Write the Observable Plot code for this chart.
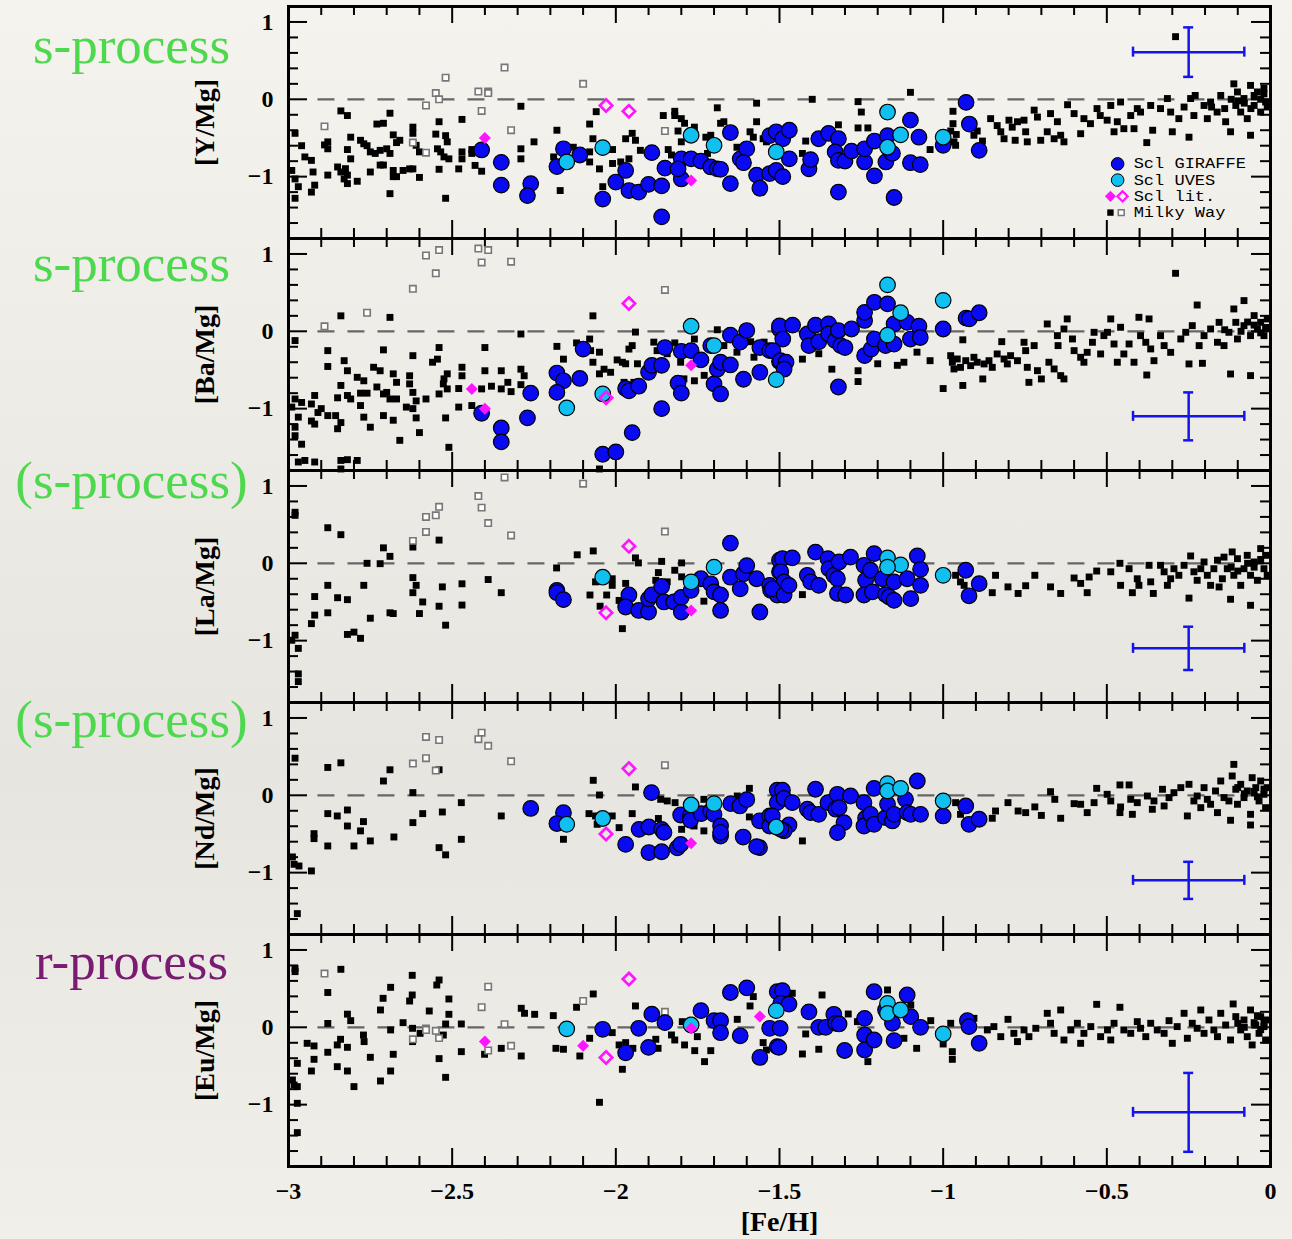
<!DOCTYPE html>
<html><head><meta charset="utf-8">
<script src="https://cdn.jsdelivr.net/npm/d3@7"></script>
<script src="https://cdn.jsdelivr.net/npm/@observablehq/plot@0.6"></script>
<style>
html,body{margin:0;padding:0;}
body{width:1292px;height:1239px;overflow:hidden;background:linear-gradient(180deg,#f5f3ee 0%,#eceae5 40%,#e7e5e0 62%,#f1efea 100%);}
#chart svg{display:block;}
</style></head><body><div id="chart"></div>
<script>
// ---------- panels & labels ----------
const panels = ["[Y/Mg]","[Ba/Mg]","[La/Mg]","[Nd/Mg]","[Eu/Mg]"];
const processLabels = ["s-process","s-process","(s-process)","(s-process)","r-process"];
const processY = [0.47, 0.65, 0.85, 0.75, 0.63];
const xTickValues = [-3,-2.5,-2,-1.5,-1,-0.5,0];
const yTickValues = [-1,0,1];
// error bars (typical uncertainties)
const errX = -0.25, errXHalf = 0.17;
const errY = [0.61,-1.10,-1.10,-1.10,-1.10];
const errYHalf = [0.32,0.31,0.28,0.24,0.51];
// legend
const legendLabels = ["Scl GIRAFFE","Scl UVES","Scl lit.","Milky Way"];
const legendY = [-0.835,-1.045,-1.255,-1.465];

// ---------- [Y/Mg] ----------
const Y_MW = [[-2.84,-0.15],[-2.82,-0.21],[-2.69,-0.18],[-2.73,-0.32],[-2.71,-0.31],[-2.98,-0.44],[-2.96,-0.60],[-2.95,-0.745],[-2.93,-0.79],[-2.98,-1.03],[-2.97,-1.13],[-2.98,-1.28],[-2.925,-0.94],[-2.92,-1.11],[-2.93,-1.20],[-2.99,-0.92],[-2.88,-0.55],[-2.89,-0.59],[-2.88,-0.64],[-2.82,-0.65],[-2.81,-0.49],[-2.81,-0.77],[-2.78,-0.53],[-2.77,-0.575],[-2.76,-0.60],[-2.75,-0.68],[-2.735,-0.70],[-2.72,-0.66],[-2.70,-0.64],[-2.69,-0.70],[-2.68,-0.46],[-2.67,-0.56],[-2.66,-0.53],[-2.85,-0.875],[-2.84,-0.94],[-2.826,-0.897],[-2.82,-0.98],[-2.82,-1.09],[-2.83,-1.03],[-2.88,-0.98],[-2.79,-1.06],[-2.75,-0.94],[-2.72,-0.85],[-2.71,-0.85],[-2.68,-0.92],[-2.68,-1.00],[-2.67,-1.00],[-2.69,-1.22],[-2.65,-0.92],[-2.63,-0.90],[-2.62,-0.90],[-2.62,-0.36],[-2.62,-0.44],[-2.60,-1.01],[-2.61,-0.595],[-2.60,-0.68],[-2.54,-0.29],[-2.55,-0.45],[-2.52,-0.47],[-2.515,-0.55],[-2.545,-0.64],[-2.535,-0.68],[-2.525,-0.745],[-2.51,-0.77],[-2.54,-0.905],[-2.52,-1.28],[-2.47,-0.26],[-2.47,-0.68],[-2.47,-0.77],[-2.48,-0.90],[-2.44,-0.65],[-2.44,-0.70],[-2.43,-0.855],[-2.41,-0.93],[-2.29,-0.09],[-2.29,-0.64],[-2.29,-0.77],[-2.25,-0.55],[-2.18,-0.40],[-2.19,-0.745],[-2.17,-1.18],[-2.13,-0.62],[-2.08,-0.32],[-2.06,-0.16],[-2.07,-0.51],[-2.08,-0.68],[-2.08,-0.81],[-2.05,-0.90],[-2.04,-1.13],[-2.01,-0.65],[-2.01,-0.83],[-1.97,-0.51],[-1.95,-0.44],[-1.94,-0.53],[-1.96,-0.77],[-1.925,-0.66],[-1.985,-0.81],[-1.82,-0.155],[-1.82,-0.21],[-1.855,-0.21],[-1.81,-0.41],[-1.80,-0.25],[-1.79,-0.31],[-1.76,-0.36],[-1.84,-0.65],[-1.83,-0.72],[-1.80,-0.55],[-1.69,-0.11],[-1.68,-0.31],[-1.67,-0.29],[-1.725,-0.49],[-1.71,-0.465],[-1.72,-0.70],[-1.57,-0.05],[-1.57,-0.29],[-1.59,-0.42],[-1.58,-0.49],[-1.63,-0.62],[-1.55,-0.51],[-1.54,-0.55],
[-1.40,0.0],[-1.10,0.09],[-1.26,-0.03],[-1.25,-0.165],[-1.32,-0.33],[-1.26,-0.37],[-1.23,-0.37],[-1.42,-0.54],[-1.43,-0.70],[-1.04,-0.65],[-0.97,-0.155],[-0.97,-0.315],[-0.977,-0.41],[-0.96,-0.455],[-0.967,-0.55],[-0.987,-0.51],[-0.962,-0.595],[-0.896,-0.41],[-0.88,-0.54],[-0.906,-0.465],[-0.855,-0.25],[-0.835,-0.34],[-0.824,-0.42],[-0.814,-0.51],[-0.799,-0.27],[-0.789,-0.36],[-0.773,-0.29],[-0.78,-0.53],[-0.753,-0.27],[-0.748,-0.42],[-0.743,-0.55],[-0.722,-0.14],[-0.712,-0.23],[-0.702,-0.53],[-0.682,-0.42],[-0.672,-0.185],[-0.661,-0.51],[-0.651,-0.29],[-0.641,-0.465],[-0.631,-0.55],[-0.62,-0.07],[-0.60,-0.185],[-0.58,-0.445],[-0.57,-0.25],[-0.55,-0.315],[-0.53,-0.12],[-0.52,-0.21],[-0.499,-0.27],[-0.488,-0.08],[-0.478,-0.42],[-0.468,-0.29],[-0.458,-0.035],[-0.448,-0.38],[-0.427,-0.21],[-0.417,-0.38],[-0.407,-0.12],[-0.397,-0.165],[-0.378,-0.56],[-0.366,-0.08],[-0.36,-0.40],[-0.336,-0.12],[-0.315,0.01],[-0.305,-0.165],[-0.30,-0.42],[-0.28,-0.25],[-0.264,-0.10],[-0.249,-0.49],[-0.244,0.01],[-0.234,-0.21],[-0.29,0.81],[-0.23,0.05],[-0.203,-0.08],[-0.193,-0.25],[-0.183,-0.035],[-0.163,-0.165],[-0.152,0.05],[-0.137,-0.29],[-0.122,-0.42],[-0.112,0.20],[-0.106,-0.08],[-0.101,0.095],[-0.091,-0.165],[-0.081,0.01],[-0.071,-0.25],[-0.061,0.18],[-0.061,-0.465],[-0.05,-0.08],[-0.04,0.095],[-0.03,-0.165],[-0.02,0.14],[-0.015,-0.035],[-0.05,0.05],[-0.03,0.0],[-0.01,-0.1],[-0.08,-0.05],[-0.12,0.0],[-0.18,-0.10],[-0.14,-0.12],[-0.1,-0.02],[-0.02,0.07],[-0.06,-0.12]];
const Y_MW_OPEN = [[-2.89,-0.35],[-2.58,-0.08],[-2.55,0.08],[-2.54,0.0],[-2.52,0.28],[-2.42,0.10],[-2.39,0.10],[-2.39,0.08],[-2.41,-0.15],[-2.34,0.41],[-2.32,-0.40],[-2.62,-0.56],[-2.58,-0.69],[-2.10,0.20],[-1.85,-0.41]];
const Y_GIRAFFE = [[-2.41,-0.655],[-2.35,-0.815],[-2.35,-1.11],[-2.26,-1.09],[-2.27,-1.245],[-2.16,-0.64],[-2.18,-0.87],[-2.11,-0.72],[-2.04,-1.29],[-2.00,-1.07],[-1.97,-0.92],[-1.96,-1.18],[-1.93,-1.20],[-1.90,-1.10],[-1.89,-0.69],[-1.86,-1.12],[-1.85,-0.89],[-1.86,-1.52],[-1.80,-0.77],[-1.80,-1.03],[-1.81,-0.90],[-1.77,-0.77],[-1.74,-0.80],[-1.71,-0.875],[-1.69,-0.90],[-1.68,-0.905],[-1.65,-0.43],[-1.65,-1.09],[-1.62,-0.77],[-1.60,-0.64],[-1.61,-0.82],[-1.57,-0.98],[-1.56,-1.15],[-1.53,-0.47],[-1.53,-0.96],[-1.51,-0.42],[-1.51,-0.92],[-1.49,-0.51],[-1.49,-1.00],[-1.47,-0.40],[-1.47,-0.77],[-1.41,-0.90],[-1.405,-0.78],[-1.38,-0.51],[-1.35,-0.44],[-1.32,-0.51],[-1.33,-0.68],[-1.32,-0.79],[-1.30,-0.80],[-1.28,-0.67],[-1.32,-1.20],[-1.24,-0.81],[-1.24,-0.64],[-1.21,-0.99],[-1.21,-0.54],[-1.175,-0.81],[-1.17,-0.47],[-1.155,-0.70],[-1.15,-1.27],[-1.10,-0.27],[-1.10,-0.82],[-1.074,-0.49],[-1.07,-0.845],[-1.00,-0.595],[-0.93,-0.04],[-0.92,-0.32],[-0.89,-0.66]];
const Y_UVES = [[-2.04,-0.625],[-2.15,-0.81],[-1.77,-0.465],[-1.70,-0.595],[-1.51,-0.68],[-1.17,-0.165],[-1.13,-0.46],[-1.17,-0.62],[-1.00,-0.49]];
const Y_LIT = [[-2.40,-0.50],[-1.77,-1.05]];
const Y_LIT_OPEN = [[-2.03,-0.08],[-1.96,-0.155]];

// ---------- [Ba/Mg] ----------
const BA_MW = [[-2.84,0.20],[-2.69,0.18],[-2.98,-0.12],[-2.88,-0.25],[-2.88,-0.455],[-2.83,-0.38],[-2.82,-0.51],[-2.84,-0.70],[-2.85,-0.86],[-2.92,-0.83],[-2.93,-0.94],[-2.96,-0.92],[-2.98,-0.875],[-2.99,-0.98],[-2.97,-1.11],[-2.98,-1.24],[-2.98,-1.35],[-2.96,-1.46],[-2.97,-1.69],[-2.95,-1.67],[-2.92,-1.69],[-2.91,-1.05],[-2.93,-1.16],[-2.92,-1.20],[-2.90,-1.00],[-2.88,-1.09],[-2.856,-1.09],[-2.85,-1.26],[-2.84,-1.18],[-2.84,-1.67],[-2.82,-1.66],[-2.79,-1.67],[-2.84,-1.78],[-2.82,-0.83],[-2.81,-0.875],[-2.79,-0.595],[-2.77,-0.64],[-2.78,-0.80],[-2.76,-0.80],[-2.78,-0.96],[-2.77,-1.11],[-2.75,-1.24],[-2.73,-0.72],[-2.72,-0.51],[-2.71,-0.81],[-2.70,-0.79],[-2.71,-1.09],[-2.69,-0.875],[-2.68,-0.55],[-2.67,-0.66],[-2.67,-0.875],[-2.68,-1.15],[-2.66,-1.41],[-2.71,-0.24],[-2.74,-0.465],[-2.62,-0.315],[-2.63,-0.575],[-2.63,-0.68],[-2.62,-0.79],[-2.61,-0.90],[-2.64,-0.98],[-2.62,-1.00],[-2.61,-1.12],[-2.60,-1.31],[-2.58,-0.875],[-2.56,-0.40],[-2.545,-0.36],[-2.54,-0.21],[-2.525,-0.615],[-2.515,-0.745],[-2.515,-0.55],[-2.52,-1.12],[-2.51,-1.50],[-2.54,-0.81],[-2.527,-0.68],[-2.48,-0.98],[-2.48,-0.74],[-2.47,-0.575],[-2.47,-0.465],[-2.44,-0.96],[-2.41,-0.745],[-2.40,-0.51],[-2.40,-0.21],[-2.38,-0.71],[-2.35,-0.51],[-2.35,-0.745],[-2.33,-0.66],[-2.32,-0.78],[-2.29,-0.035],[-2.29,-0.49],[-2.28,-0.575],[-2.29,-0.69],[-2.18,-0.195],[-2.16,-0.36],[-2.12,-0.15],[-2.08,-0.10],[-2.077,-0.25],[-2.07,-0.40],[-2.07,0.20],[-2.05,-0.27],[-2.05,-0.55],[-2.05,-1.78],[-2.036,-0.49],[-2.016,-0.53],[-1.996,-0.37],[-1.98,-0.40],[-1.97,-0.42],[-1.96,-0.23],[-1.95,-0.185],[-1.94,-0.01],[-1.934,-0.42],[-1.975,-0.66],[-1.945,-0.66],[-1.884,-0.14],[-1.874,-0.25],[-1.843,-0.29],[-1.82,-0.15],[-1.802,-0.40],[-1.792,-0.615],[-1.76,-0.64],[-1.76,-0.10],[-1.73,-0.57],[-1.69,0.02],[-1.67,-0.185],[-1.63,-0.27],[-1.578,-0.335],[-1.588,-0.135],[-1.547,-0.14],
[-1.43,-0.36],[-1.38,-0.29],[-1.34,-0.49],[-1.26,-0.51],[-1.26,-0.65],[-1.20,-0.42],[-1.14,-0.44],[-1.12,-0.40],[-1.08,-0.27],[-1.04,-0.38],[-1.00,-0.74],[-0.94,-0.11],[-0.94,-0.70],[-0.977,-0.315],[-0.972,-0.40],[-0.967,-0.487],[-0.957,-0.358],[-0.947,-0.466],[-0.931,-0.38],[-0.916,-0.444],[-0.906,-0.336],[-0.896,-0.40],[-0.875,-0.422],[-0.879,-0.616],[-0.86,-0.38],[-0.85,-0.466],[-0.835,-0.293],[-0.821,-0.134],[-0.814,-0.358],[-0.804,-0.422],[-0.794,-0.315],[-0.773,-0.38],[-0.753,-0.142],[-0.748,-0.25],[-0.743,-0.466],[-0.738,-0.66],[-0.722,-0.185],[-0.712,-0.509],[-0.70,-0.616],[-0.682,0.095],[-0.677,-0.40],[-0.661,-0.487],[-0.651,-0.056],[-0.649,-0.185],[-0.641,-0.573],[-0.631,0.03],[-0.631,-0.616],[-0.621,0.16],[-0.605,-0.099],[-0.60,-0.25],[-0.58,-0.336],[-0.57,-0.40],[-0.56,-0.272],[-0.544,-0.142],[-0.539,-0.013],[-0.519,-0.293],[-0.509,-0.056],[-0.498,-0.013],[-0.488,0.16],[-0.478,-0.164],[-0.468,-0.40],[-0.458,0.052],[-0.448,-0.293],[-0.432,-0.164],[-0.417,-0.40],[-0.402,0.181],[-0.397,-0.056],[-0.381,-0.142],[-0.378,-0.565],[-0.371,0.16],[-0.366,-0.228],[-0.356,-0.38],[-0.336,-0.056],[-0.325,-0.185],[-0.305,-0.272],[-0.29,0.75],[-0.274,-0.099],[-0.259,-0.013],[-0.249,-0.422],[-0.239,0.073],[-0.224,0.34],[-0.218,-0.185],[-0.208,-0.414],[-0.203,-0.056],[-0.183,0.03],[-0.162,-0.142],[-0.157,0.116],[-0.142,-0.185],[-0.127,-0.013],[-0.122,-0.552],[-0.112,0.289],[-0.106,0.116],[-0.101,-0.099],[-0.081,0.397],[-0.081,0.073],[-0.061,-0.056],[-0.061,-0.573],[-0.05,0.203],[-0.04,0.03],[-0.03,0.116],[-0.02,-0.056],[-0.01,0.16],[-0.05,0.08],[-0.03,-0.02],[-0.015,0.05],[-0.09,0.0],[-0.14,0.02],[-0.07,0.12]];
const BA_MW_OPEN = [[-2.89,0.065],[-2.76,0.24],[-2.62,0.55],[-2.58,0.98],[-2.55,0.75],[-2.54,1.05],[-2.42,1.07],[-2.39,1.05],[-2.41,0.89],[-2.32,0.90],[-1.85,0.535]];
const BA_GIRAFFE = [[-2.41,-1.06],[-2.35,-1.25],[-2.35,-1.43],[-2.26,-0.80],[-2.27,-1.12],[-2.18,-0.54],[-2.16,-0.64],[-2.18,-0.79],[-2.11,-0.61],[-2.10,-0.23],[-2.04,-1.59],[-2.00,-1.56],[-1.97,-0.74],[-1.96,-0.77],[-1.95,-1.31],[-1.93,-0.71],[-1.90,-0.53],[-1.89,-0.44],[-1.86,-0.44],[-1.86,-1.00],[-1.85,-0.21],[-1.81,-0.67],[-1.80,-0.80],[-1.80,-0.26],[-1.77,-0.25],[-1.74,-0.37],[-1.71,-0.185],[-1.70,-0.68],[-1.68,-0.81],[-1.69,-0.49],[-1.68,-0.40],[-1.65,-0.435],[-1.65,-0.05],[-1.62,-0.14],[-1.60,0.01],[-1.61,-0.62],[-1.56,-0.21],[-1.56,-0.53],[-1.53,-0.25],[-1.50,0.03],[-1.50,-0.39],
[-1.50,0.07],[-1.46,0.08],[-1.49,-0.10],[-1.52,-0.25],[-1.497,-0.38],[-1.48,-0.40],[-1.486,-0.49],[-1.415,-0.035],[-1.41,-0.185],[-1.39,0.08],[-1.38,-0.135],[-1.35,0.095],[-1.35,-0.035],[-1.33,-0.12],[-1.32,0.01],[-1.313,-0.185],[-1.30,-0.21],[-1.28,0.03],[-1.32,-0.72],[-1.24,0.14],[-1.24,0.245],[-1.24,-0.315],[-1.22,-0.23],[-1.21,0.375],[-1.21,-0.10],[-1.17,0.355],[-1.176,-0.185],[-1.15,-0.165],[-1.15,0.095],[-1.11,0.115],[-1.10,-0.10],[-1.074,0.065],[-1.07,-0.08],[-1.00,0.03],[-0.93,0.17],[-0.92,0.16],[-0.89,0.24]];
const BA_UVES = [[-2.04,-0.81],[-2.15,-0.99],[-1.77,0.065],[-1.70,-0.185],[-1.51,-0.625],[-1.17,0.60],[-1.13,0.24],[-1.17,-0.05],[-1.00,0.40]];
const BA_LIT = [[-2.44,-0.745],[-2.40,-1.00],[-1.77,-0.44]];
const BA_LIT_OPEN = [[-1.96,0.36],[-2.03,-0.86]];

// ---------- [La/Mg] ----------
const LA_MW = [[-2.98,0.66],[-2.98,0.62],[-2.88,0.46],[-2.84,0.37],[-2.71,0.20],[-2.69,0.09],[-2.76,0.0],[-2.72,-0.005],[-2.88,-0.285],[-2.92,-0.43],[-2.85,-0.445],[-2.82,-0.47],[-2.77,-0.285],[-2.88,-0.64],[-2.92,-0.67],[-2.93,-0.78],[-2.98,-0.93],[-2.99,-0.995],[-2.97,-1.10],[-2.97,-1.43],[-2.97,-1.53],[-2.82,-0.92],[-2.80,-0.89],[-2.78,-0.97],[-2.75,-0.71],[-2.69,-0.64],[-2.68,-0.65],[-2.62,0.21],[-2.62,-0.185],[-2.61,-0.285],[-2.62,-0.38],[-2.59,-0.50],[-2.60,-0.65],[-2.54,0.30],[-2.53,-0.305],[-2.54,-0.555],[-2.52,-0.80],[-2.47,-0.265],[-2.47,-0.54],[-2.39,-0.21],[-2.35,-0.38],[-2.181,-0.06],[-2.118,0.11],[-2.069,0.16],[-2.062,-0.24],[-2.079,-0.41],[-2.028,-0.41],[-2.048,-0.555],[-2.011,-0.20],[-2.011,-0.285],[-1.98,-0.845],[-1.99,-0.48],[-1.97,-0.26],[-1.94,0.07],[-1.931,0.005],[-1.86,0.025],[-1.87,-0.12],[-1.878,-0.22],[-1.843,-0.24],[-1.82,-0.09],[-1.799,0.005],[-1.799,-0.175],[-1.731,-0.49],[-1.746,-0.20],
[-1.43,-0.405],[-0.962,-0.155],[-0.947,-0.24],[-0.936,-0.285],[-0.85,-0.38],[-0.84,-0.155],[-0.802,-0.305],[-0.771,-0.39],[-0.748,-0.29],[-0.72,-0.155],[-0.672,-0.305],[-0.641,-0.39],[-0.60,-0.19],[-0.58,-0.26],[-0.56,-0.38],[-0.554,-0.177],[-0.531,-0.10],[-0.488,-0.11],[-0.46,0.0],[-0.458,-0.285],[-0.432,-0.07],[-0.422,-0.38],[-0.407,-0.20],[-0.402,-0.285],[-0.371,-0.026],[-0.366,-0.24],[-0.358,-0.39],[-0.336,-0.026],[-0.325,-0.11],[-0.315,-0.285],[-0.305,-0.20],[-0.295,-0.07],[-0.28,-0.155],[-0.264,-0.026],[-0.249,-0.45],[-0.244,0.095],[-0.234,-0.11],[-0.224,-0.22],[-0.213,-0.07],[-0.203,0.017],[-0.193,-0.155],[-0.183,-0.285],[-0.173,-0.07],[-0.162,0.04],[-0.157,-0.306],[-0.147,-0.20],[-0.142,0.08],[-0.132,-0.07],[-0.122,-0.465],[-0.117,0.147],[-0.112,-0.155],[-0.101,0.06],[-0.091,-0.285],[-0.081,-0.07],[-0.071,0.103],[-0.061,-0.543],[-0.061,-0.155],[-0.05,0.017],[-0.04,-0.22],[-0.03,0.19],[-0.02,-0.07],[-0.015,0.103],[-0.01,-0.155],[-0.05,-0.05],[-0.03,0.05],[-0.1,-0.1],[-0.07,0.0],[-0.12,-0.05]];
const LA_MW_OPEN = [[-2.34,1.11],[-2.10,1.03],[-2.42,0.87],[-2.41,0.72],[-2.54,0.73],[-2.55,0.62],[-2.58,0.60],[-2.58,0.405],[-2.62,0.29],[-2.39,0.52],[-2.32,0.36],[-1.85,0.41]];
const LA_GIRAFFE = [[-2.18,-0.35],[-2.18,-0.38],[-2.16,-0.47],[-1.96,-0.41],[-1.97,-0.565],[-1.93,-0.61],[-1.90,-0.63],[-1.90,-0.46],[-1.89,-0.41],[-1.86,-0.30],[-1.853,-0.50],[-1.823,-0.50],[-1.80,-0.63],[-1.80,-0.44],[-1.77,-0.35],[-1.74,-0.20],[-1.71,-0.265],[-1.70,-0.37],[-1.68,-0.41],[-1.68,-0.61],[-1.65,-0.18],[-1.62,-0.33],[-1.61,-0.135],[-1.60,-0.03],[-1.56,-0.63],[-1.57,-0.20],[-1.53,-0.285],[-1.527,-0.35],[-1.50,0.04],[-1.50,-0.11],[-1.507,-0.41],[-1.65,0.26],
[-1.491,0.06],[-1.461,0.07],[-1.496,-0.11],[-1.486,-0.24],[-1.522,-0.33],[-1.486,-0.41],[-1.471,-0.285],[-1.415,-0.155],[-1.405,-0.24],[-1.39,0.145],[-1.38,-0.285],[-1.352,0.06],[-1.349,-0.07],[-1.334,-0.155],[-1.323,-0.20],[-1.318,0.017],[-1.323,-0.39],[-1.298,-0.41],[-1.283,0.08],[-1.242,-0.026],[-1.237,-0.22],[-1.222,-0.09],[-1.211,0.125],[-1.242,-0.41],[-1.216,-0.37],[-1.186,-0.20],[-1.176,-0.405],[-1.165,-0.435],[-1.15,-0.48],[-1.15,-0.24],[-1.11,-0.20],[-1.099,-0.457],[-1.079,0.095],[-1.069,-0.078],[-1.069,-0.285],[-0.931,-0.09],[-0.921,-0.42],[-0.89,-0.263]];
const LA_UVES = [[-2.04,-0.18],[-1.77,-0.24],[-1.70,-0.05],[-1.17,0.07],[-1.13,-0.02],[-1.17,-0.05],[-1.00,-0.155]];
const LA_LIT = [[-1.77,-0.61]];
const LA_LIT_OPEN = [[-1.96,0.22],[-2.03,-0.64]];

// ---------- [Nd/Mg] ----------
const ND_MW = [[-2.98,0.48],[-2.88,0.36],[-2.84,0.42],[-2.71,0.185],[-2.69,0.33],[-2.62,0.035],[-2.54,0.33],[-2.88,-0.237],[-2.851,-0.267],[-2.82,-0.19],[-2.88,-0.655],[-2.922,-0.496],[-2.922,-0.56],[-2.82,-0.397],[-2.771,-0.34],[-2.78,-0.46],[-2.80,-0.655],[-2.75,-0.59],[-2.678,-0.539],[-2.988,-0.797],[-2.983,-0.892],[-2.968,-0.914],[-2.93,-0.978],[-2.973,-1.53],[-2.62,-0.353],[-2.59,-0.237],[-2.53,-0.216],[-2.54,-0.677],[-2.52,-0.77],[-2.472,-0.095],[-2.472,-0.569],[-2.35,-0.267],[-2.069,0.194],[-2.05,0.004],[-2.082,-0.237],[-2.062,-0.267],[-2.057,-0.375],[-2.011,-0.267],[-1.99,-0.418],[-1.95,-0.237],[-1.94,0.108],[-1.87,-0.30],[-1.863,-0.052],[-1.843,-0.073],[-1.819,-0.095],[-1.799,-0.44],[-1.731,-0.052],[-1.731,-0.46],[-1.761,-0.397],[-1.629,-0.009],[-1.592,0.09],[-1.592,-0.28],[-2.16,-0.569],
[-1.43,-0.59],[-0.962,-0.095],[-0.947,-0.246],[-0.85,-0.297],[-0.84,-0.203],[-0.802,-0.095],[-0.771,-0.203],[-0.748,-0.224],[-0.72,-0.15],[-0.70,-0.26],[-0.672,0.047],[-0.659,-0.052],[-0.641,-0.297],[-0.60,-0.108],[-0.58,-0.116],[-0.56,-0.224],[-0.539,-0.095],[-0.531,0.09],[-0.499,0.013],[-0.488,-0.073],[-0.46,0.134],[-0.458,-0.151],[-0.46,-0.224],[-0.432,0.134],[-0.427,-0.052],[-0.422,-0.246],[-0.407,-0.095],[-0.376,-0.009],[-0.361,-0.181],[-0.356,-0.073],[-0.33,0.078],[-0.325,-0.138],[-0.31,-0.03],[-0.295,0.034],[-0.274,0.099],[-0.254,-0.267],[-0.249,0.142],[-0.234,-0.073],[-0.224,-0.009],[-0.213,-0.16],[-0.203,0.099],[-0.193,-0.052],[-0.183,-0.116],[-0.168,0.056],[-0.162,-0.224],[-0.152,0.185],[-0.142,-0.03],[-0.127,-0.073],[-0.122,-0.323],[-0.112,0.40],[-0.117,0.25],[-0.106,0.078],[-0.101,-0.116],[-0.091,0.142],[-0.081,-0.03],[-0.071,0.056],[-0.061,-0.246],[-0.061,-0.384],[-0.056,0.228],[-0.045,0.099],[-0.035,-0.073],[-0.03,0.185],[-0.02,0.013],[-0.015,-0.16],[-0.01,0.099],[-0.05,0.05],[-0.02,0.08],[-0.08,0.02],[-0.04,-0.02],[-0.1,0.1]];
const ND_MW_OPEN = [[-2.58,0.755],[-2.54,0.715],[-2.41,0.81],[-2.42,0.725],[-2.39,0.64],[-2.62,0.41],[-2.58,0.48],[-2.55,0.32],[-2.32,0.44],[-1.85,0.39]];
const ND_GIRAFFE = [[-2.26,-0.17],[-2.16,-0.225],[-2.18,-0.365],[-1.97,-0.635],[-1.929,-0.44],[-1.899,-0.41],[-1.891,0.035],[-1.86,-0.44],[-1.853,-0.48],[-1.899,-0.74],[-1.86,-0.73],[-1.812,-0.68],[-1.802,-0.635],[-1.802,-0.255],[-1.772,-0.267],[-1.772,-0.323],[-1.739,-0.237],[-1.71,-0.203],[-1.70,-0.246],[-1.68,-0.397],[-1.68,-0.526],[-1.68,-0.48],[-1.649,-0.108],[-1.621,-0.138],[-1.60,-0.056],[-1.611,-0.54],[-1.561,-0.677],[-1.57,-0.664],[-1.561,-0.33],[-1.53,-0.267],[-1.53,-0.397],[-1.507,0.065],[-1.507,-0.095],
[-1.491,0.065],[-1.486,-0.04],[-1.461,-0.095],[-1.522,-0.267],[-1.471,-0.384],[-1.486,-0.46],[-1.496,-0.44],[-1.415,-0.18],[-1.405,-0.224],[-1.39,0.078],[-1.38,-0.246],[-1.352,-0.095],[-1.328,-0.18],[-1.323,0.013],[-1.318,-0.16],[-1.303,-0.353],[-1.283,-0.009],[-1.323,-0.483],[-1.242,-0.095],[-1.237,-0.297],[-1.242,-0.397],[-1.211,0.09],[-1.222,-0.246],[-1.211,-0.375],[-1.176,-0.289],[-1.17,-0.116],[-1.155,-0.332],[-1.15,-0.246],[-1.115,-0.052],[-1.11,-0.224],[-1.099,-0.246],[-1.079,0.185],[-1.069,-0.246],[-1.0,-0.267],[-0.931,-0.138],[-0.921,-0.375],[-0.89,-0.31]];
const ND_UVES = [[-2.15,-0.375],[-2.04,-0.30],[-1.77,-0.125],[-1.70,-0.108],[-1.51,-0.41],[-1.17,0.15],[-1.17,0.056],[-1.13,0.09],[-1.00,-0.073]];
const ND_LIT = [[-1.77,-0.62]];
const ND_LIT_OPEN = [[-1.96,0.345],[-2.03,-0.50]];

// ---------- [Eu/Mg] ----------
const EU_MW = [[-2.98,0.76],[-2.98,0.72],[-2.84,0.75],[-2.88,0.45],[-2.88,0.05],[-2.82,0.17],[-2.81,0.086],[-2.943,-0.207],[-2.922,-0.241],[-2.922,-0.414],[-2.88,-0.323],[-2.851,-0.228],[-2.841,-0.155],[-2.82,-0.259],[-2.851,-0.509],[-2.82,-0.565],[-2.80,-0.767],[-2.93,-0.565],[-2.973,-0.466],[-2.988,-0.681],[-2.973,-0.767],[-2.983,-0.746],[-2.973,-0.983],[-2.973,-1.362],[-2.771,-0.10],[-2.769,-0.185],[-2.75,-0.388],[-2.719,0.224],[-2.711,0.375],[-2.688,0.517],[-2.688,-0.034],[-2.68,-0.349],[-2.719,-0.694],[-2.688,-0.565],[-2.65,0.06],[-2.622,0.672],[-2.622,0.418],[-2.63,0.34],[-2.621,-0.013],[-2.621,-0.185],[-2.598,-0.078],[-2.57,0.211],[-2.547,0.547],[-2.54,0.612],[-2.51,0.366],[-2.51,0.168],[-2.52,0.043],[-2.527,-0.10],[-2.54,-0.405],[-2.52,-0.647],[-2.472,0.043],[-2.472,-0.315],[-2.401,-0.349],[-2.35,-0.272],[-2.289,0.246],[-2.279,0.181],[-2.289,-0.371],[-2.248,0.168],[-2.191,0.151],[-2.183,-0.272],[-2.16,-0.284],[-2.12,0.259],[-2.11,-0.371],[-2.08,-0.142],[-2.069,0.431],[-2.05,-0.97],[-2.011,-0.069],[-1.99,-0.228],[-1.98,-0.543],[-1.97,-0.198],[-1.948,-0.272],[-1.94,0.276],[-1.878,-0.155],[-1.871,-0.272],[-1.83,-0.099],[-1.82,-0.164],[-1.797,0.073],[-1.79,-0.228],[-1.759,-0.302],[-1.751,-0.121],[-1.729,-0.444],[-1.71,-0.302],[-1.629,0.103],[-1.59,0.276],[-1.58,0.397],[-1.55,-0.198],[-1.54,-0.293],
[-1.461,0.44],[-1.37,0.418],[-1.43,-0.345],[-1.42,-0.086],[-1.38,-0.284],[-1.29,0.172],[-1.262,0.073],[-1.23,-0.444],[-1.17,0.483],[-1.12,-0.142],[-1.099,0.289],[-1.081,-0.272],[-1.038,0.086],[-1.0,-0.216],[-0.972,-0.315],[-0.972,-0.414],[-0.977,0.052],[-0.906,0.116],[-0.865,-0.034],[-0.845,0.009],[-0.824,-0.121],[-0.802,0.103],[-0.784,-0.078],[-0.773,-0.185],[-0.753,-0.034],[-0.738,-0.121],[-0.717,-0.013],[-0.682,0.181],[-0.672,0.052],[-0.661,-0.078],[-0.641,0.224],[-0.631,-0.164],[-0.61,-0.034],[-0.59,0.052],[-0.58,-0.207],[-0.57,-0.078],[-0.549,0.009],[-0.531,0.297],[-0.519,-0.121],[-0.498,-0.034],[-0.488,-0.164],[-0.478,0.052],[-0.46,0.259],[-0.448,-0.034],[-0.427,-0.078],[-0.407,0.073],[-0.397,-0.013],[-0.381,-0.121],[-0.366,0.052],[-0.346,-0.034],[-0.325,-0.078],[-0.31,0.086],[-0.30,-0.207],[-0.285,0.009],[-0.264,0.181],[-0.254,-0.142],[-0.239,0.052],[-0.224,-0.013],[-0.213,0.224],[-0.203,-0.078],[-0.188,0.095],[-0.173,-0.034],[-0.162,-0.121],[-0.152,0.181],[-0.137,0.03],[-0.122,-0.164],[-0.114,0.302],[-0.106,0.138],[-0.091,-0.034],[-0.081,0.095],[-0.071,-0.121],[-0.061,0.224],[-0.056,-0.228],[-0.045,0.03],[-0.035,-0.078],[-0.03,0.138],[-0.02,0.009],[-0.015,-0.164],[-0.01,0.095],[-0.05,0.06],[-0.03,-0.03],[-0.08,0.0],[-0.02,0.05],[-0.1,0.05],[-0.04,0.15]];
const EU_MW_OPEN = [[-2.89,0.695],[-2.39,0.525],[-2.41,0.26],[-2.34,0.04],[-2.58,-0.015],[-2.58,-0.035],[-2.55,-0.045],[-2.54,-0.14],[-2.62,-0.155],[-2.39,-0.30],[-2.32,-0.24],[-2.10,0.34],[-1.85,0.20]];
const EU_GIRAFFE = [[-2.04,-0.026],[-1.97,-0.33],[-1.93,-0.013],[-1.90,-0.26],[-1.89,0.17],[-1.85,0.06],[-1.74,0.215],[-1.70,0.086],[-1.68,0.086],[-1.68,-0.07],[-1.65,0.45],[-1.60,0.51],[-1.62,-0.11],[-1.56,-0.39],[-1.53,-0.013],[-1.507,-0.25],[-1.507,0.46],
[-1.491,0.474],[-1.496,0.31],[-1.471,0.30],[-1.498,-0.013],[-1.502,-0.26],[-1.41,0.20],[-1.38,0.0],[-1.359,0.0],[-1.334,0.168],[-1.328,0.052],[-1.318,0.043],[-1.301,-0.30],[-1.24,0.116],[-1.24,-0.10],[-1.24,-0.293],[-1.211,0.46],[-1.211,-0.164],[-1.176,0.224],[-1.155,0.052],[-1.15,-0.172],[-1.11,0.418],[-1.099,0.138],[-1.069,0.0],[-0.926,0.086],[-0.921,0.009],[-0.89,-0.207]];
const EU_UVES = [[-2.15,-0.02],[-1.77,0.03],[-1.51,0.215],[-1.17,0.31],[-1.17,0.18],[-1.13,0.224],[-1.00,-0.086]];
const EU_LIT = [[-2.40,-0.185],[-2.10,-0.24],[-1.77,-0.013],[-1.56,0.14]];
const EU_LIT_OPEN = [[-2.03,-0.39],[-1.96,0.625]];

// ---------- assemble ----------
const MW = [Y_MW, BA_MW, LA_MW, ND_MW, EU_MW];
const MW_OPEN = [Y_MW_OPEN, BA_MW_OPEN, LA_MW_OPEN, ND_MW_OPEN, EU_MW_OPEN];
const GIRAFFE = [Y_GIRAFFE, BA_GIRAFFE, LA_GIRAFFE, ND_GIRAFFE, EU_GIRAFFE];
const UVES = [Y_UVES, BA_UVES, LA_UVES, ND_UVES, EU_UVES];
const LIT = [Y_LIT, BA_LIT, LA_LIT, ND_LIT, EU_LIT];
const LIT_OPEN = [Y_LIT_OPEN, BA_LIT_OPEN, LA_LIT_OPEN, ND_LIT_OPEN, EU_LIT_OPEN];
const table = (sets) => sets.flatMap((pts, i) => pts.map(([x, y]) => ({panel: panels[i], x, y})));

const W = 1292, H = 1239, ML = 288, MR = 22, MT = 6, MB = 73;
const X0 = -3, X1 = 0, Y0 = -1.8, Y1 = 1.2;
const pxX = (W - ML - MR) / (X1 - X0);
const pxY = ((H - MT - MB) / panels.length) / (Y1 - Y0);

const xt = d3.range(-30, 1).map(i => ({v: i / 10, major: i % 5 === 0}));
const yt = d3.range(-8, 6).map(i => ({v: i / 5, major: i % 5 === 0}));
const panelRows = panels.map((p, i) => ({panel: p, label: processLabels[i], py: processY[i], ey: errY[i], eh: errYHalf[i]}));

const BLUE = "#0a0af2", CYAN = "#10c0f0", MAG = "#ff14ff", ERR = "#1414ee", GREEN = "#4ed84e", PURPLE = "#7a1a72";
const serif = "Liberation Serif, Times New Roman, serif";
const fmt = d => (d < 0 ? "\u2212" : "") + String(Math.abs(d));

const legendRow0 = [{panel: panels[0]}];

const chart = Plot.plot({
  width: W, height: H,
  marginLeft: ML, marginRight: MR, marginTop: MT, marginBottom: MB,
  style: {background: "transparent", fontFamily: serif, fontSize: "24px", fontWeight: "bold", color: "black"},
  x: {domain: [X0, X1], ticks: xTickValues, tickFormat: fmt, tickSize: 0, tickPadding: 15, label: null},
  y: {domain: [Y0, Y1], ticks: yTickValues, tickFormat: fmt, tickSize: 0, tickPadding: 15, label: null},
  fy: {domain: panels, padding: 0, axis: null, label: null},
  marks: [
    // zero reference line
    Plot.ruleY([0], {x1: () => -2.91, x2: () => -0.02, stroke: "#666", strokeWidth: 2.2, strokeDasharray: "17,13"}),
    // inward ticks
    Plot.ruleY(yt, {y: "v", x1: () => X0, x2: d => X0 + (d.major ? 19 : 10) / pxX, stroke: "black", strokeWidth: 2}),
    Plot.ruleY(yt, {y: "v", x1: () => X1, x2: d => X1 - (d.major ? 19 : 10) / pxX, stroke: "black", strokeWidth: 2}),
    Plot.ruleX(xt, {x: "v", y1: () => Y1, y2: d => Y1 - (d.major ? 17 : 9) / pxY, stroke: "black", strokeWidth: 2}),
    Plot.ruleX(xt, {x: "v", y1: () => Y0, y2: d => Y0 + (d.major ? 18 : 10) / pxY, stroke: "black", strokeWidth: 2}),
    // Milky Way
    Plot.dot(table(MW), {x: "x", y: "y", fy: "panel", symbol: "square", r: 3.9, fill: "black"}),
    Plot.dot(table(MW_OPEN), {x: "x", y: "y", fy: "panel", symbol: "square", r: 3.6, fill: "white", stroke: "#777", strokeWidth: 1.6}),
    // Sculptor
    Plot.dot(table(GIRAFFE), {x: "x", y: "y", fy: "panel", r: 7.8, fill: BLUE, stroke: "black", strokeWidth: 1.2}),
    Plot.dot(table(UVES), {x: "x", y: "y", fy: "panel", r: 7.8, fill: CYAN, stroke: "black", strokeWidth: 1.2}),
    Plot.dot(table(LIT), {x: "x", y: "y", fy: "panel", symbol: "diamond2", r: 5.4, fill: MAG}),
    Plot.dot(table(LIT_OPEN), {x: "x", y: "y", fy: "panel", symbol: "diamond2", r: 5.6, fill: "none", stroke: MAG, strokeWidth: 2.6}),
    // error bars
    Plot.ruleY(panelRows, {fy: "panel", y: "ey", x1: () => errX - errXHalf, x2: () => errX + errXHalf, stroke: ERR, strokeWidth: 2.5}),
    Plot.ruleX(panelRows, {fy: "panel", x: () => errX, y1: d => d.ey - d.eh, y2: d => d.ey + d.eh, stroke: ERR, strokeWidth: 2.5}),
    Plot.ruleX(panelRows.flatMap(d => [{...d, cx: errX - errXHalf}, {...d, cx: errX + errXHalf}]), {fy: "panel", x: "cx", y1: d => d.ey - 5 / pxY, y2: d => d.ey + 5 / pxY, stroke: ERR, strokeWidth: 2.5}),
    Plot.ruleY(panelRows.flatMap(d => [{...d, cy: d.ey - d.eh}, {...d, cy: d.ey + d.eh}]), {fy: "panel", y: "cy", x1: () => errX - 5 / pxX, x2: () => errX + 5 / pxX, stroke: ERR, strokeWidth: 2.5}),
    // frame
    Plot.frame({stroke: "black", strokeWidth: 3}),
    // legend (top panel)
    Plot.dot(legendRow0, {fy: "panel", x: () => -0.467, y: () => legendY[0], r: 6.3, fill: BLUE, stroke: "black", strokeWidth: 1}),
    Plot.dot(legendRow0, {fy: "panel", x: () => -0.467, y: () => legendY[1], r: 6.3, fill: CYAN, stroke: "black", strokeWidth: 1}),
    Plot.dot(legendRow0, {fy: "panel", x: () => -0.489, y: () => legendY[2], symbol: "diamond2", r: 5, fill: MAG}),
    Plot.dot(legendRow0, {fy: "panel", x: () => -0.452, y: () => legendY[2], symbol: "diamond2", r: 4.6, fill: "none", stroke: MAG, strokeWidth: 2.2}),
    Plot.dot(legendRow0, {fy: "panel", x: () => -0.489, y: () => legendY[3], symbol: "square", r: 3.6, fill: "black"}),
    Plot.dot(legendRow0, {fy: "panel", x: () => -0.456, y: () => legendY[3], symbol: "square", r: 3.3, fill: "white", stroke: "#777", strokeWidth: 1.5}),
    Plot.text(legendLabels.map((t, i) => ({panel: panels[0], t, y: legendY[i]})), {fy: "panel", x: () => -0.418, y: "y", text: "t", textAnchor: "start", lineAnchor: "middle", fontFamily: "Liberation Mono, DejaVu Sans Mono, monospace", fontSize: 14, fontWeight: "normal", fill: "black"}),
    // y labels
    Plot.text(panelRows, {fy: "panel", y: () => -0.3, frameAnchor: "left", dx: -83, text: "panel", rotate: -90, textAnchor: "middle", lineAnchor: "middle", fontSize: 28, fontWeight: "bold", fontFamily: serif, fill: "black"}),
    // process labels
    Plot.text(panelRows.filter(d => d.label !== "r-process"), {fy: "panel", y: "py", frameAnchor: "left", dx: -157, text: "label", textAnchor: "middle", lineAnchor: "bottom", fontSize: 53, fontWeight: "normal", fontFamily: serif, fill: GREEN}),
    Plot.text(panelRows.filter(d => d.label === "r-process"), {fy: "panel", y: "py", frameAnchor: "left", dx: -157, text: "label", textAnchor: "middle", lineAnchor: "bottom", fontSize: 53, fontWeight: "normal", fontFamily: serif, fill: PURPLE}),
    // x label
    Plot.text([{panel: panels[4]}], {fy: "panel", x: () => -1.5, frameAnchor: "bottom", dy: 56, text: () => "[Fe/H]", textAnchor: "middle", lineAnchor: "middle", fontSize: 28, fontWeight: "bold", fontFamily: serif, fill: "black"})
  ]
});
// widen the legend text to the reference's wide letter spacing
d3.select(chart).selectAll("text").filter(function() { return legendLabels.includes(this.textContent); }).each(function() {
  const n = this.textContent.length;
  this.setAttribute("textLength", String(n * 10.2));
  this.setAttribute("lengthAdjust", "spacingAndGlyphs");
});
document.getElementById("chart").appendChild(chart);
</script>
</body></html>
